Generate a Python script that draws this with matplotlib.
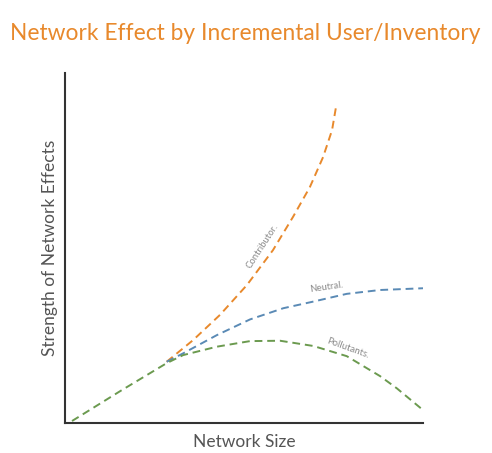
import numpy as np
import matplotlib.pyplot as plt

# curves (x = network size, y = strength), 0..100 scale
pollutant_x = [1.96, 15.4, 28.4, 33.0, 42.4, 51.7, 60.1, 69.4, 78.7, 88.0, 92.7, 100]
pollutant_y = [0.57, 9.1, 17.1, 19.4, 21.8, 23.4, 23.5, 22.0, 19.1, 13.4, 9.9, 3.7]

neutral_x = [28.4, 33.0, 42.4, 51.7, 61.0, 69.4, 78.7, 88.0, 100]
neutral_y = [17.5, 19.9, 25.1, 29.6, 32.8, 34.7, 36.9, 38.0, 38.5]

contrib_x = [28.4, 35.8, 43.3, 50.8, 58.1, 63.7, 68.4, 72.1, 74.6, 75.7]
contrib_y = [17.5, 23.7, 30.9, 39.4, 49.4, 58.9, 67.4, 76.0, 83.7, 90.3]

orange = "#E8892C"
blue = "#5A8AB5"
green = "#6B9A4F"
label_grey = "#8a8a8a"
text_grey = "#555555"

plt.rcParams['font.family'] = ['Lato', 'DejaVu Sans']

fig = plt.figure(figsize=(4.92, 4.53), dpi=100)
ax = fig.add_axes([65 / 492, 30 / 453, 358 / 492, 350 / 453])

dash = (0, (4, 2.5))
ax.plot(contrib_x, contrib_y, color=orange, lw=1.4, linestyle=dash)
ax.plot(neutral_x, neutral_y, color=blue, lw=1.4, linestyle=dash)
ax.plot(pollutant_x, pollutant_y, color=green, lw=1.4, linestyle=dash)

ax.text(55.0, 50.5, "Contributor.", rotation=57, color=label_grey, fontsize=6.8,
        ha="center", va="center")
ax.text(73.0, 38.8, "Neutral.", rotation=8, color=label_grey, fontsize=6.8,
        ha="center", va="center")
ax.text(79.0, 21.3, "Pollutants.", rotation=-20, color=label_grey, fontsize=6.8,
        ha="center", va="center")

ax.set_xlim(0, 100)
ax.set_ylim(0, 100)
ax.set_xticks([])
ax.set_yticks([])
for side in ["top", "right"]:
    ax.spines[side].set_visible(False)
for side in ["left", "bottom"]:
    ax.spines[side].set_color("#333333")
    ax.spines[side].set_linewidth(1.5)

ax.set_xlabel("Network Size", fontsize=12.5, color=text_grey, labelpad=8)
ax.set_ylabel("Strength of Network Effects", fontsize=12.5, color=text_grey, labelpad=5)

fig.text(10 / 492, 1 - 33 / 453, "Network Effect by Incremental User/Inventory",
         color=orange, fontsize=16.4, ha="left", va="center")

fig.savefig("out.png", dpi=100)
